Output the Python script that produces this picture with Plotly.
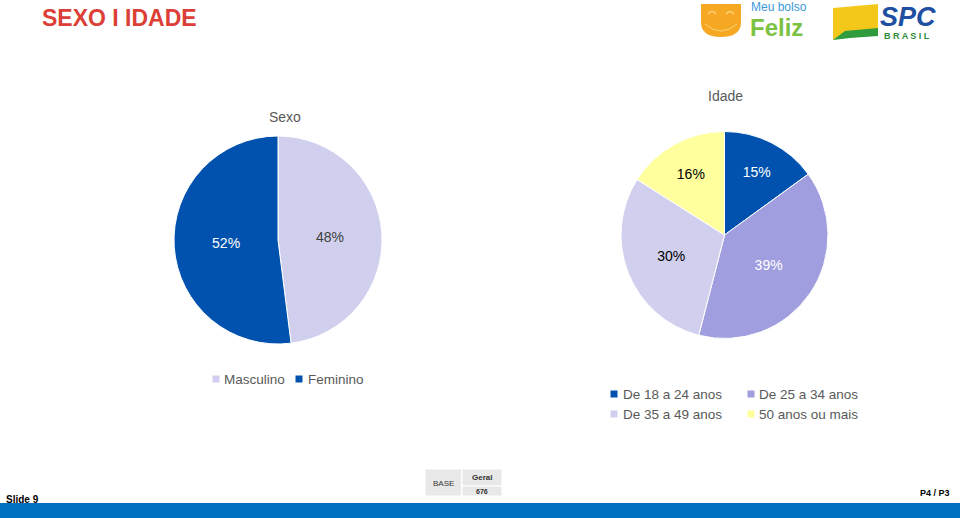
import plotly.graph_objects as go

W, H = 960, 518

# ---- data ----
sexo_labels = ["Masculino", "Feminino"]
sexo_values = [48, 52]
sexo_colors = ["#D0D0EE", "#0052AE"]
sexo_text_colors = ["#404040", "#FFFFFF"]

idade_labels = ["De 18 a 24 anos", "De 25 a 34 anos", "De 35 a 49 anos", "50 anos ou mais"]
idade_values = [15, 39, 30, 16]
idade_colors = ["#0052AE", "#A09EDE", "#D0D0EE", "#FFFF9E"]
idade_text_colors = ["#FFFFFF", "#FFFFFF", "#000000", "#000000"]

base_label = "BASE"
base_col = "Geral"
base_n = "676"

FONT = "Arial, Liberation Sans, sans-serif"


def px(x):
    return x / W


def py(y):
    return 1 - y / H


fig = go.Figure()

fig.add_trace(go.Pie(
    labels=sexo_labels, values=sexo_values,
    marker=dict(colors=sexo_colors, line=dict(color="white", width=1)),
    sort=False, direction="clockwise", rotation=0,
    texttemplate="%{value}%", textposition="inside",
    insidetextorientation="horizontal",
    textfont=dict(family=FONT, size=14, color=sexo_text_colors),
    domain=dict(x=[px(174), px(382)], y=[py(344), py(136)]),
    showlegend=False, hoverinfo="label+percent",
))

fig.add_trace(go.Pie(
    labels=idade_labels, values=idade_values,
    marker=dict(colors=idade_colors, line=dict(color="white", width=1)),
    sort=False, direction="clockwise", rotation=0,
    texttemplate="%{value}%", textposition="inside",
    insidetextorientation="horizontal",
    textfont=dict(family=FONT, size=14, color=idade_text_colors),
    domain=dict(x=[px(621), px(828)], y=[py(338.5), py(131.5)]),
    showlegend=False, hoverinfo="label+percent",
))

shapes = []
annotations = []


def text(x, y, s, size, color, bold=False, xanchor="left", yanchor="middle", italic=False):
    if bold:
        s = "<b>" + s + "</b>"
    if italic:
        s = "<i>" + s + "</i>"
    annotations.append(dict(
        x=px(x), y=py(y), xref="paper", yref="paper", text=s, showarrow=False,
        xanchor=xanchor, yanchor=yanchor,
        font=dict(family=FONT, size=size, color=color),
    ))


def rect(x0, y0, x1, y1, fill, line=None, lw=0):
    shapes.append(dict(
        type="rect", xref="paper", yref="paper",
        x0=px(x0), x1=px(x1), y0=py(y1), y1=py(y0),
        fillcolor=fill, line=dict(color=line or fill, width=lw), layer="above",
    ))


def path(pts, fill, line_color=None, lw=0, closed=True):
    d = "M " + " L ".join(f"{px(x):.5f},{py(y):.5f}" for x, y in pts)
    if closed:
        d += " Z"
    shapes.append(dict(type="path", xref="paper", yref="paper", path=d,
                       fillcolor=fill if closed else None,
                       line=dict(color=line_color or fill, width=lw), layer="above"))


# Title
text(40, 18, "SEXO I IDADE", 23, "#DC3F37", bold=True)

# Chart titles
text(285, 117, "Sexo", 14, "#595959", xanchor="center")
text(725, 96, "Idade", 14, "#595959", xanchor="center")

# Sexo legend (manual)
leg1 = [(216, 222), (299, 306)]
for (mx, tx), lab, col in zip(leg1, sexo_labels, sexo_colors):
    rect(mx - 3.5, 375.5, mx + 3.5, 382.5, col)
    text(tx, 379.5, lab, 13.5, "#595959")

# Idade legend (manual)
leg2 = [(614, 621, 394), (751, 757, 394), (614, 621, 414), (751, 757, 414)]
for (mx, tx, yy), lab, col in zip(leg2, idade_labels, idade_colors):
    rect(mx - 3.5, yy - 3.5, mx + 3.5, yy + 3.5, col)
    text(tx, yy + 0.5, lab, 13.5, "#595959")

# BASE table
rect(425, 469, 461.5, 496, "#E8E8E8", "white", 1)
rect(462, 469, 502, 486, "#E8E8E8", "white", 1)
rect(462, 486, 502, 496, "#E8E8E8", "white", 1)
text(443.5, 483, base_label, 8, "#333333", xanchor="center")
text(482, 477.5, base_col, 8, "#333333", bold=True, xanchor="center")
text(482, 491.5, base_n, 7, "#333333", bold=True, xanchor="center")

# Footer bar
rect(0, 503, 960, 518, "#0070C0")
text(4, 499, "Slide 9", 10, "#000000", bold=True)
text(952, 493, "P4 / P3", 9, "#000000", bold=True, xanchor="right")

# Logo: Meu bolso Feliz
shapes.append(dict(type="path", xref="paper", yref="paper",
                   path=(f"M {px(701)},{py(4)} L {px(741)},{py(4)} "
                         f"L {px(741)},{py(22)} Q {px(741)},{py(37)} {px(721)},{py(37)} "
                         f"Q {px(701)},{py(37)} {px(701)},{py(22)} Z"),
                   fillcolor="#F7A823", line=dict(color="#F7A823", width=0), layer="above"))
for ex in (712, 730):
    shapes.append(dict(type="path", xref="paper", yref="paper",
                       path=f"M {px(ex-4)},{py(14)} Q {px(ex)},{py(9)} {px(ex+4)},{py(14)}",
                       line=dict(color="#FBD27A", width=1.5), layer="above"))
shapes.append(dict(type="path", xref="paper", yref="paper",
                   path=f"M {px(705)},{py(24)} Q {px(721)},{py(38)} {px(737)},{py(24)}",
                   line=dict(color="#FBD27A", width=1), layer="above"))
text(749, 7, "Meu bolso", 12, "#3A9AD9")
text(748, 27, "Feliz", 24, "#7CC242", bold=True)

# Logo: SPC Brasil
path([(833, 8), (878, 4), (878, 30), (840, 36), (833, 40)], "#F4C81B")
path([(833, 40), (845, 31), (878, 28), (878, 36), (850, 38)], "#2E9B3C")
text(908, 17, "SPC", 27, "#1F4FA0", bold=True, italic=True, xanchor="center")
text(907, 36, "B R A S I L", 9, "#2E8B3C", bold=True, xanchor="center")

fig.update_layout(
    width=W, height=H, margin=dict(l=0, r=0, t=0, b=0),
    paper_bgcolor="white", plot_bgcolor="white",
    shapes=shapes, annotations=annotations,
    showlegend=False,
)

fig.write_html("out.html", config={"displayModeBar": False},
               post_script="document.body.style.margin='0';document.body.style.overflow='hidden';")
